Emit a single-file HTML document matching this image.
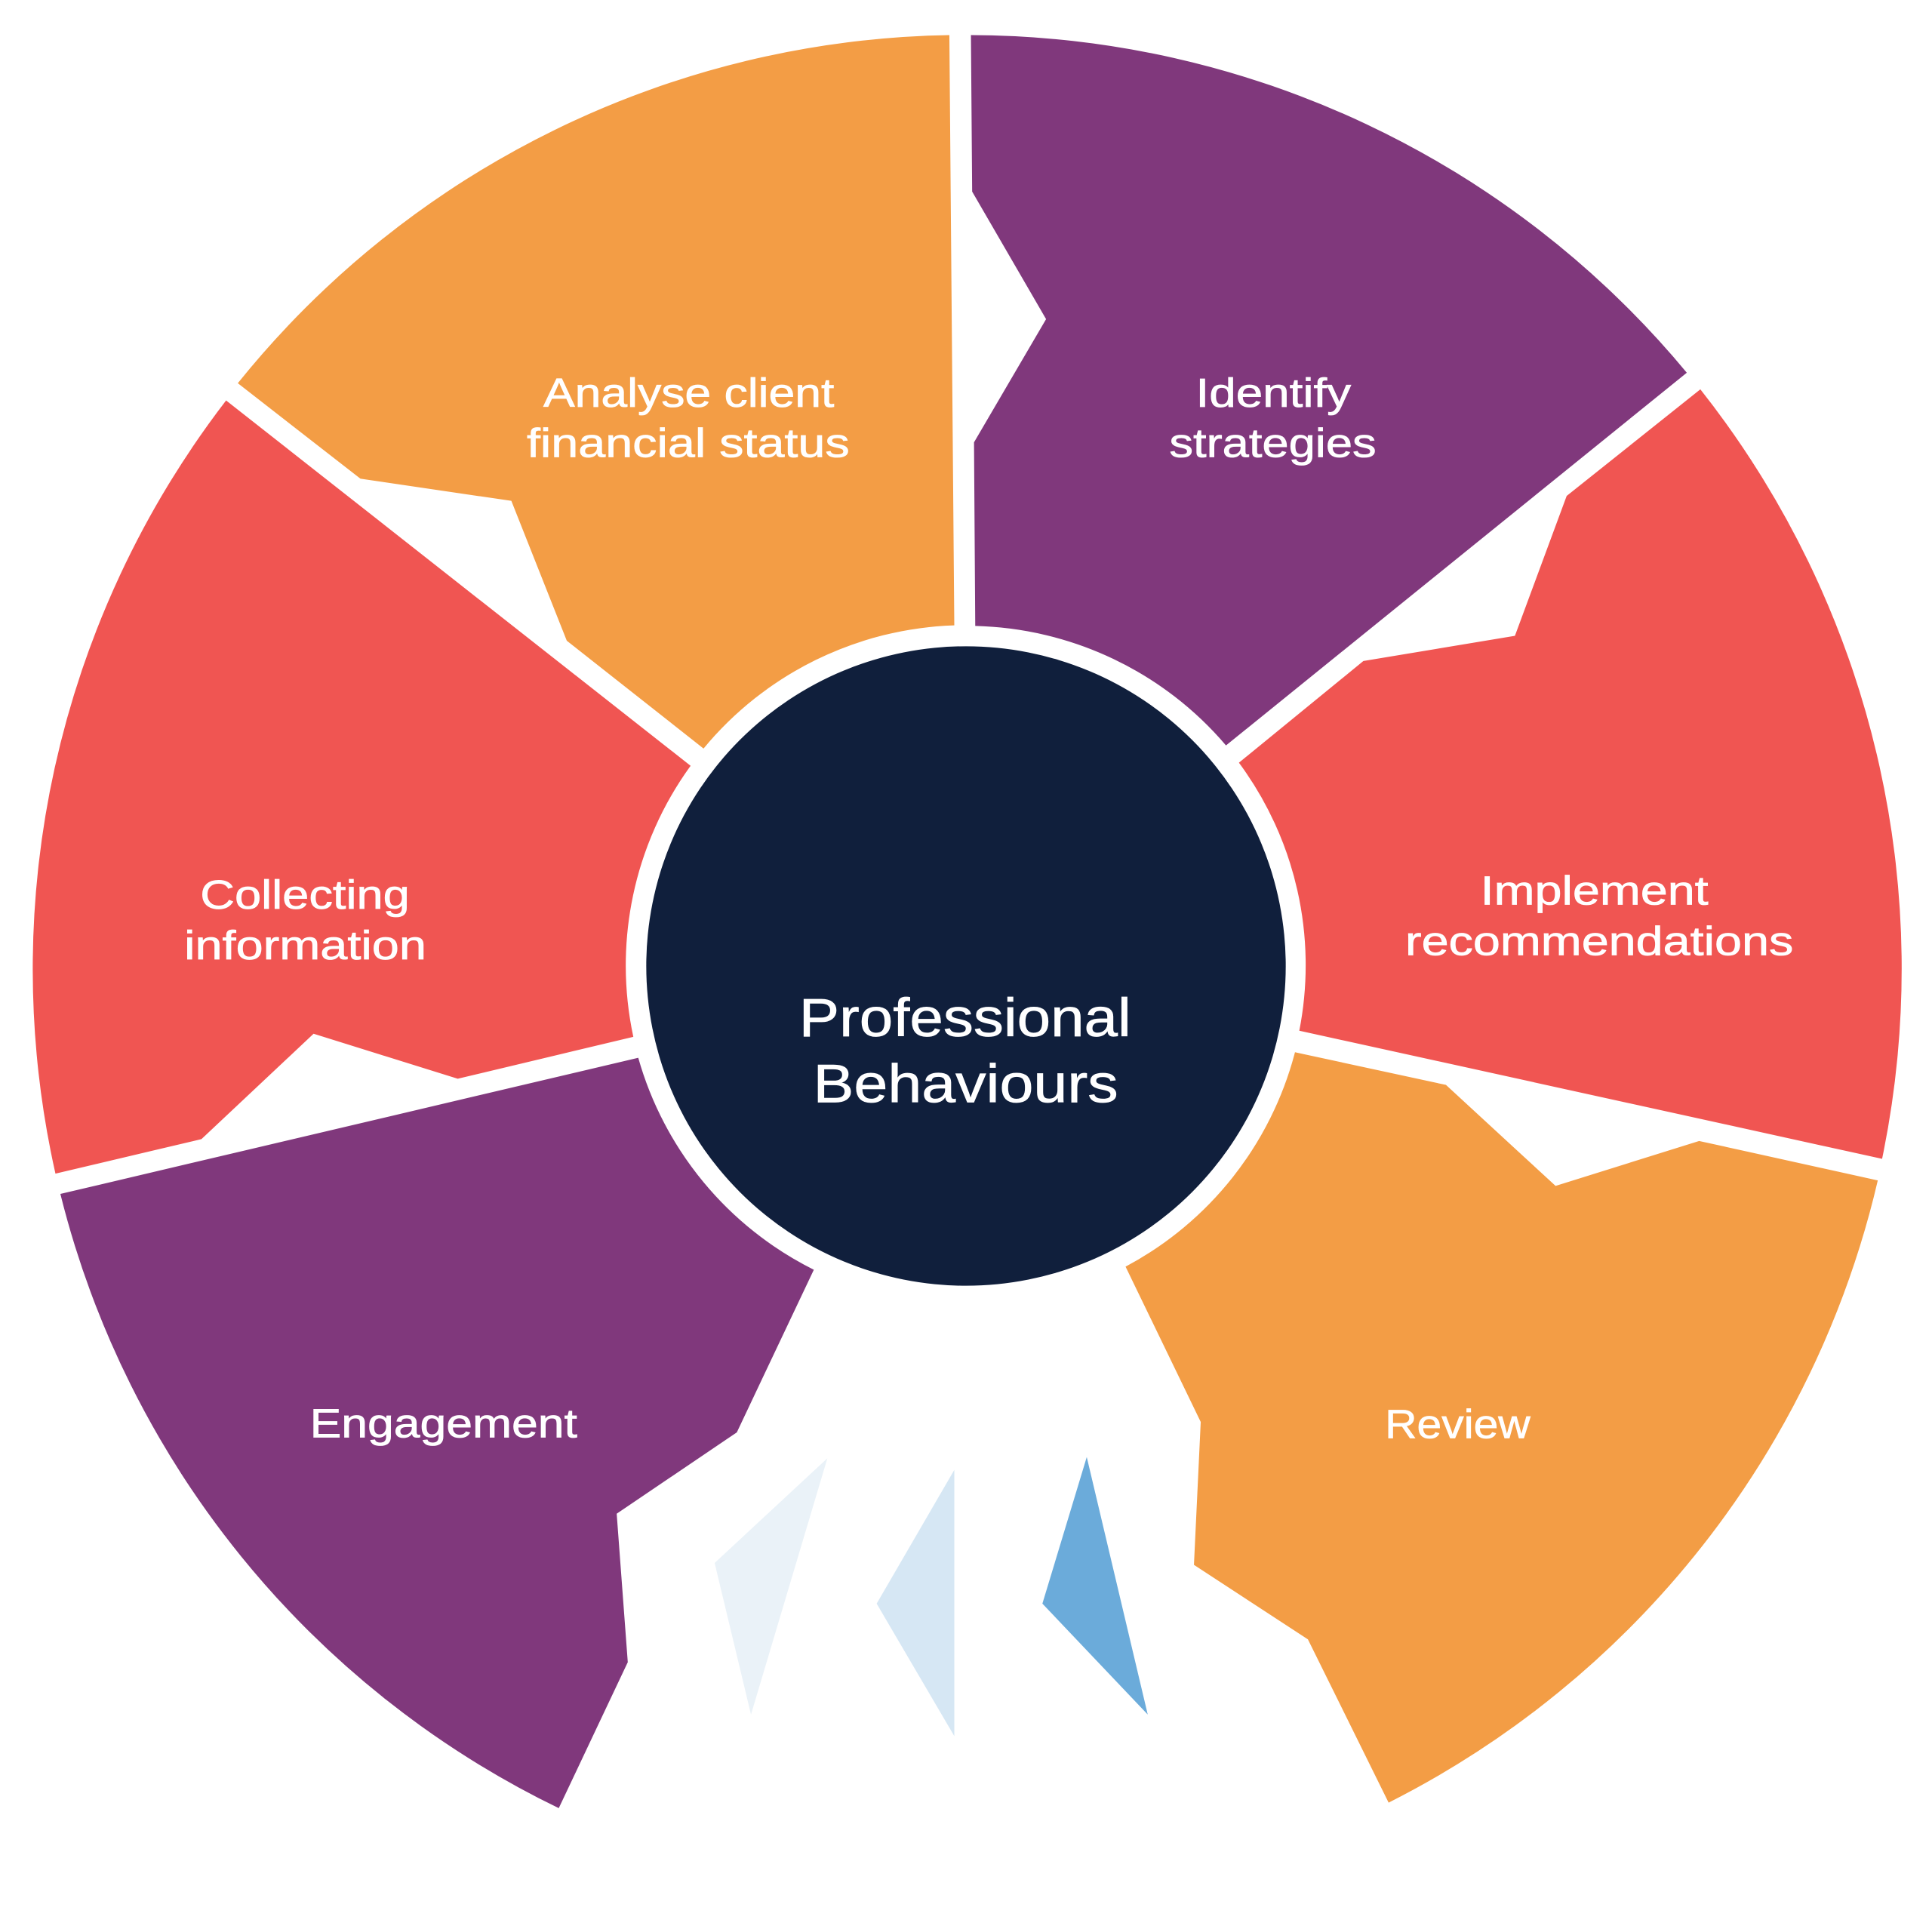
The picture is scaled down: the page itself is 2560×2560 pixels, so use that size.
<!DOCTYPE html>
<html>
<head>
<meta charset="utf-8">
<style>
  html, body { margin: 0; padding: 0; background: #ffffff; }
  svg { display: block; }
  text { font-family: "Liberation Sans", "DejaVu Sans", sans-serif; fill: #ffffff; stroke: #ffffff; stroke-width: 0.45; }
</style>
</head>
<body>
<svg xmlns="http://www.w3.org/2000/svg" width="2560" height="2560" viewBox="0 0 1568 1568">
  <rect x="0" y="0" width="1568" height="1568" fill="#ffffff"/>

  <!-- Top-left orange: Analyse client financial status -->
  <path fill="#F39D45" d="M 193,311 A 757 757 0 0 1 770.5,28.5 L 774.5,507.5 A 276 276 0 0 0 571,607.5 L 460,520 L 415,406.5 L 292.5,388.5 Z"/>

  <!-- Top-right purple: Identify strategies -->
  <path fill="#80387C" d="M 788,28.5 A 757 757 0 0 1 1369,302.5 L 995,605 A 276 276 0 0 0 791.5,508 L 790.5,359 L 849,259 L 789,155.5 Z"/>

  <!-- Right red: Implement recommendations -->
  <path fill="#F05552" d="M 1380,316 A 758 758 0 0 1 1527.5,940.5 L 1054.5,836.5 A 276 276 0 0 0 1005.5,619 L 1106.5,536.5 L 1229.5,516 L 1271.5,402.5 Z"/>

  <!-- Bottom-right orange: Review -->
  <path fill="#F39D45" d="M 1051,854 L 1173.5,880.5 L 1262.5,962.5 L 1379,926 L 1524,958 A 758 758 0 0 1 1127,1463 L 1061.5,1330.5 L 969,1270 L 974.5,1154 L 913.5,1028 A 276 276 0 0 0 1051,854 Z"/>

  <!-- Bottom-left purple: Engagement -->
  <path fill="#80387C" d="M 49,969 L 518,858.5 A 276 276 0 0 0 660.5,1030.5 L 598,1162.5 L 500.5,1228.5 L 509.5,1349 L 453.5,1467.5 A 757 757 0 0 1 49,969 Z"/>

  <!-- Left red: Collecting information -->
  <path fill="#F05552" d="M 183.5,325 L 560.5,621.5 A 276 276 0 0 0 514,841.5 L 371.5,875.5 L 254.5,839 L 163.5,924.5 L 45,952.5 A 757 757 0 0 1 183.5,325 Z"/>

  <!-- Bottom triangles -->
  <polygon fill="#EAF2F8" points="580,1268.5 671.5,1183.5 609.5,1391.5"/>
  <polygon fill="#D6E7F4" points="711.5,1301.5 774.5,1193 774.5,1409"/>
  <polygon fill="#6BABDA" points="846,1301.5 882,1182.5 931.5,1391.5"/>

  <!-- Center circle -->
  <circle cx="784" cy="784" r="259.5" fill="#101F3C"/>

  <!-- Labels -->
  <text x="441" y="330" font-size="33" textLength="236" lengthAdjust="spacingAndGlyphs">Analyse client</text>
  <text x="427.5" y="371" font-size="33" textLength="262" lengthAdjust="spacingAndGlyphs">financial status</text>

  <text x="970.5" y="330" font-size="33" textLength="126" lengthAdjust="spacingAndGlyphs">Identify</text>
  <text x="949" y="371" font-size="33" textLength="168" lengthAdjust="spacingAndGlyphs">strategies</text>

  <text x="162.5" y="737.5" font-size="33" textLength="170" lengthAdjust="spacingAndGlyphs">Collecting</text>
  <text x="149.5" y="778.5" font-size="33" textLength="196.5" lengthAdjust="spacingAndGlyphs">information</text>

  <text x="1201.5" y="734" font-size="33" textLength="185" lengthAdjust="spacingAndGlyphs">Implement</text>
  <text x="1140.5" y="775" font-size="33" textLength="315" lengthAdjust="spacingAndGlyphs">recommendations</text>

  <text x="251.5" y="1166.5" font-size="33" textLength="217" lengthAdjust="spacingAndGlyphs">Engagement</text>
  <text x="1124" y="1167" font-size="33" textLength="118" lengthAdjust="spacingAndGlyphs">Review</text>

  <text x="648.5" y="841" font-size="44" textLength="269.5" lengthAdjust="spacingAndGlyphs">Professional</text>
  <text x="660" y="894.5" font-size="44" textLength="247.5" lengthAdjust="spacingAndGlyphs">Behaviours</text>
</svg>
</body>
</html>
